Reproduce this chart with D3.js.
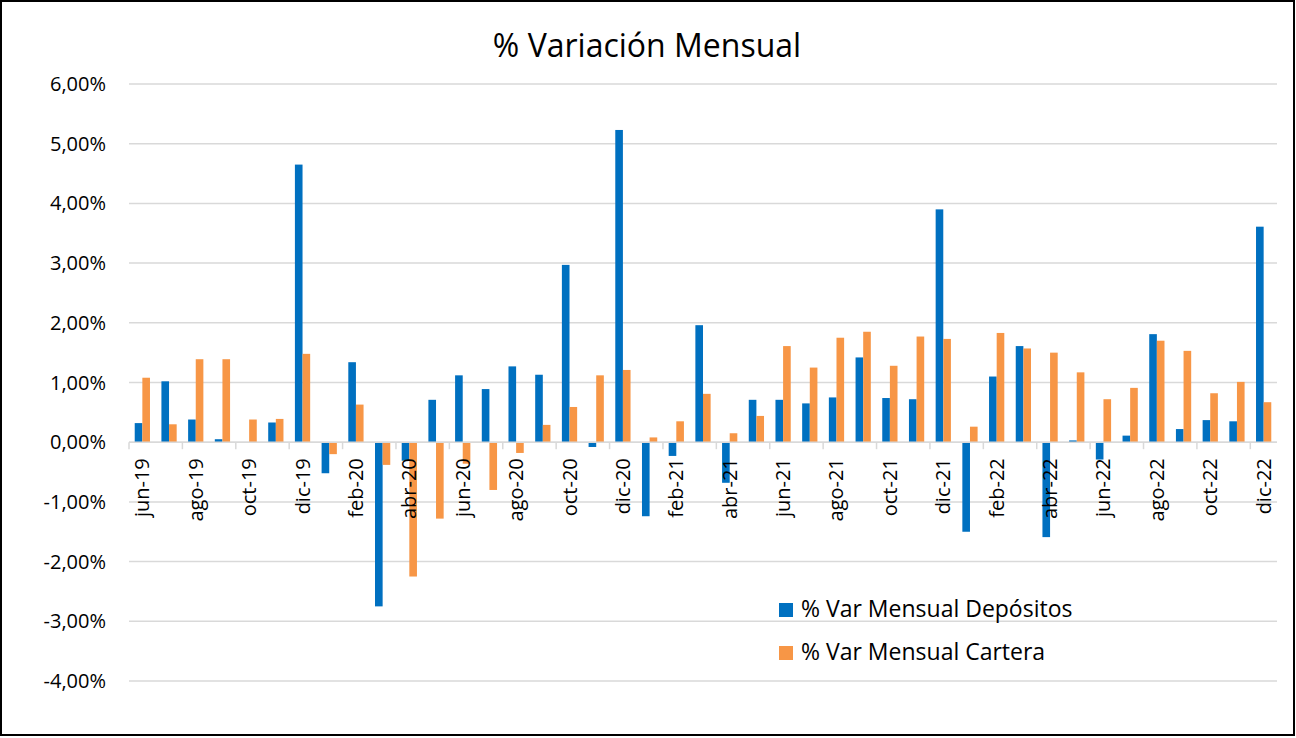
<!DOCTYPE html>
<html><head><meta charset="utf-8">
<script src="https://cdn.jsdelivr.net/npm/d3@7"></script>
<style>body{margin:0;background:#fff;} svg{display:block;}</style>
</head><body>
<svg id="chart" width="1296" height="738"></svg>
<script>
const months = ["jun-19","jul-19","ago-19","sep-19","oct-19","nov-19","dic-19",
"ene-20","feb-20","mar-20","abr-20","may-20","jun-20","jul-20","ago-20","sep-20","oct-20","nov-20","dic-20",
"ene-21","feb-21","mar-21","abr-21","may-21","jun-21","jul-21","ago-21","sep-21","oct-21","nov-21","dic-21",
"ene-22","feb-22","mar-22","abr-22","may-22","jun-22","jul-22","ago-22","sep-22","oct-22","nov-22","dic-22"];
const depositos = [0.32,1.02,0.38,0.05,0,0.33,4.65,
-0.52,1.34,-2.75,-0.31,0.71,1.12,0.89,1.27,1.13,2.97,-0.08,5.23,
-1.24,-0.23,1.96,-0.68,0.71,0.71,0.65,0.75,1.42,0.74,0.72,3.90,
-1.50,1.10,1.61,-1.59,0.03,-0.29,0.11,1.81,0.22,0.37,0.35,3.61];
const cartera = [1.08,0.30,1.39,1.39,0.38,0.39,1.48,
-0.20,0.63,-0.38,-2.25,-1.28,-0.36,-0.80,-0.18,0.29,0.59,1.12,1.21,
0.08,0.35,0.81,0.15,0.44,1.61,1.25,1.75,1.85,1.28,1.77,1.73,
0.26,1.83,1.57,1.50,1.17,0.72,0.91,1.70,1.53,0.82,1.01,0.67];
const yTicks = [-4,-3,-2,-1,0,1,2,3,4,5,6];
const seriesNames = ["% Var Mensual Depósitos","% Var Mensual Cartera"];
const colors = ["#0070C0","#F79646"];

const svg = d3.select("#chart");
const font = "'Open Sans', sans-serif";
svg.append("rect").attr("x",1).attr("y",1).attr("width",1293).attr("height",734)
  .attr("fill","#fff").attr("stroke","#000").attr("stroke-width",2);

const L=129, R=1277, T=84, B=681;
const x = d3.scaleBand().domain(months).range([L,R]).padding(0);
const y = d3.scaleLinear().domain([-4,6]).range([B,T]);
const bw = x.bandwidth()/3.5;

// grid
svg.append("g").selectAll("line").data(yTicks).join("line")
  .attr("x1",L).attr("x2",R).attr("y1",d=>y(d)).attr("y2",d=>y(d))
  .attr("stroke","#d9d9d9").attr("stroke-width",1.5);

// y labels
svg.append("g").selectAll("text").data(yTicks).join("text")
  .attr("x",106).attr("y",d=>y(d)).attr("dy","0.35em").attr("text-anchor","end")
  .attr("font-family",font).attr("font-size",20).attr("fill","#000")
  .text(d=>d.toFixed(2).replace(".",",")+"%");

// bars
const data = months.map((m,i)=>({m, v:[depositos[i],cartera[i]]}));
[0,1].forEach(s=>{
  svg.append("g").selectAll("rect").data(data).join("rect")
    .attr("x",d=>x(d.m)+x.bandwidth()/2 - bw + s*bw)
    .attr("width",bw)
    .attr("y",d=>y(Math.max(0,d.v[s])))
    .attr("height",d=>Math.abs(y(d.v[s])-y(0)))
    .attr("fill",colors[s]);
});

// x axis
svg.append("line").attr("x1",L).attr("x2",R).attr("y1",y(0)).attr("y2",y(0))
  .attr("stroke","#d9d9d9").attr("stroke-width",1.5);
const tickIdx = d3.range(0, months.length+1, 2);
svg.append("g").selectAll("line").data(tickIdx).join("line")
  .attr("x1",i=>L+i*x.step()).attr("x2",i=>L+i*x.step())
  .attr("y1",y(0)).attr("y2",y(0)+7)
  .attr("stroke","#d9d9d9").attr("stroke-width",1.5);
svg.append("g").selectAll("text").data(months.filter((m,i)=>i%2===0)).join("text")
  .attr("transform",m=>`translate(${x(m)+x.bandwidth()/2},${y(0)+16}) rotate(-90)`)
  .attr("dy","0.35em").attr("text-anchor","end")
  .attr("font-family",font).attr("font-size",20).attr("fill","#000")
  .text(m=>m);

// title
svg.append("text").attr("x",647).attr("y",57).attr("text-anchor","middle")
  .attr("font-family",font).attr("font-size",32).attr("fill","#000")
  .text("% Variación Mensual");

// legend
const lg = svg.append("g");
seriesNames.forEach((n,i)=>{
  lg.append("rect").attr("x",779).attr("y",603+i*43).attr("width",14).attr("height",14).attr("fill",colors[i]);
  lg.append("text").attr("x",801).attr("y",617+i*43)
    .attr("font-family",font).attr("font-size",23).attr("fill","#000").text(n);
});
</script>
</body></html>
